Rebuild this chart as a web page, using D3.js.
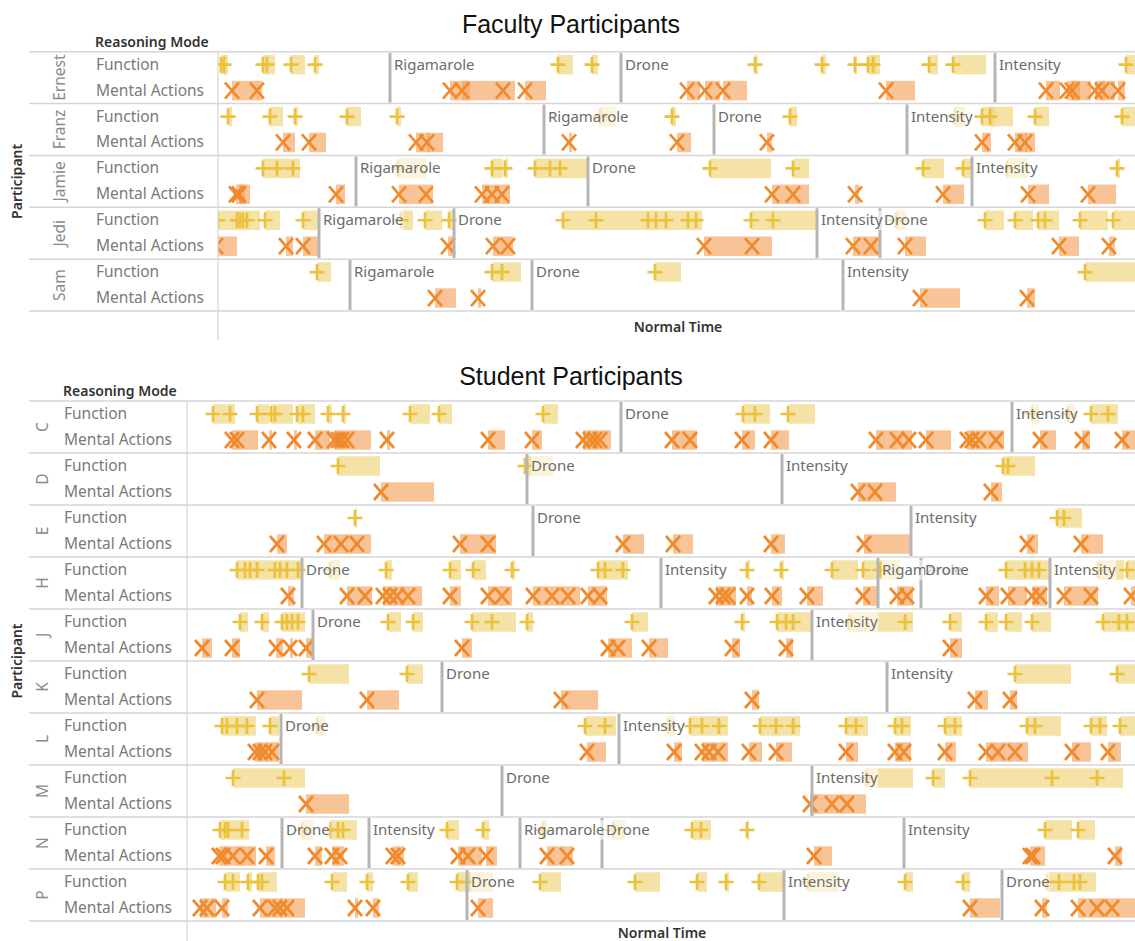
<!DOCTYPE html>
<html>
<head>
<meta charset="utf-8">
<script src="https://cdn.jsdelivr.net/npm/d3@7"></script>
<style>
body { margin: 0; background: #fff; }
text { font-family: "Noto Sans", sans-serif; }
</style>
</head>
<body>
<div id="draw"></div>
<script>
// reasoning modes (rows inside each participant)
var modes = ["Function", "Mental Actions"];

// ---- faculty ----
var facultyNames = ["Ernest", "Franz", "Jamie", "Jedi", "Sam"];
// game segments: [label, normal time where it starts]
var facultySegments = [
    [["Rigamarole", 172], ["Drone", 403], ["Intensity", 777]],
    [["Rigamarole", 326], ["Drone", 496], ["Intensity", 689]],
    [["Rigamarole", 138], ["Drone", 370], ["Intensity", 754]],
    [["Rigamarole", 101], ["Drone", 236], ["Intensity", 599], ["Drone", 662]],
    [["Rigamarole", 132], ["Drone", 314], ["Intensity", 625]]
];
// [start, end] of each episode
var facultyFunction = [
    [[3,8],[6,10],[45,50],[49,57],[73,87],[97,101],[340,355],[374,380],[537,540],[604,608],[637,639],[650,658],[655,662],[711,720],[735,768],[908,918]],
    [[10,14],[52,65],[77,80],[129,143],[179,183],[382,398],[454,458],[572,579],[737,747],[764,777],[772,795],[817,831],[904,917]],
    [[45,59],[59,74],[75,82],[180,208],[274,285],[287,290],[317,332],[332,342],[342,370],[492,553],[575,591],[705,726],[745,754],[789,810],[899,902]],
    [[0,19],[19,22],[22,25],[25,29],[29,42],[47,62],[85,100],[183,195],[207,224],[231,237],[345,378],[378,430],[430,438],[438,448],[448,470],[470,478],[478,484],[533,555],[555,599],[678,688],[767,786],[797,815],[820,827],[827,841],[862,890],[895,917]],
    [[99,113],[274,284],[284,303],[437,463],[867,917]]
];
var facultyMental = [
    [[14,40],[39,44],[232,252],[244,285],[285,297],[307,328],[469,482],[487,502],[505,529],[668,697],[828,842],[849,862],[854,873],[877,887],[884,897],[900,907]],
    [[65,77],[91,108],[198,212],[209,225],[351,354],[459,473],[549,554],[764,773],[797,809],[807,817]],
    [[18,27],[21,32],[118,127],[181,208],[208,215],[264,274],[274,284],[284,292],[554,575],[575,591],[637,641],[725,746],[810,831],[870,898]],
    [[-2,19],[68,75],[85,100],[230,237],[275,290],[290,295],[486,534],[534,554],[635,653],[653,661],[687,708],[841,861],[891,897]],
    [[217,238],[260,263],[702,742],[809,817]]
];

// ---- students ----
var studentNames = ["C", "D", "E", "H", "J", "K", "L", "M", "N", "P"];
var studentSegments = [
    [["Drone", 434], ["Intensity", 825]],
    [["Drone", 340], ["Intensity", 595]],
    [["Drone", 346], ["Intensity", 724]],
    [["Drone", 115], ["Intensity", 474], ["Rigamarole", 691], ["Drone", 734], ["Intensity", 863]],
    [["Drone", 126], ["Intensity", 625]],
    [["Drone", 255], ["Intensity", 700]],
    [["Drone", 94], ["Intensity", 432]],
    [["Drone", 315], ["Intensity", 625]],
    [["Drone", 95], ["Intensity", 182], ["Rigamarole", 333], ["Drone", 415], ["Intensity", 717]],
    [["Drone", 280], ["Intensity", 597], ["Drone", 815]]
];
var studentFunction = [
    [[26,43],[43,48],[70,82],[84,88],[88,106],[110,116],[116,128],[141,145],[156,159],[223,243],[252,265],[356,371],[556,568],[568,583],[601,628],[845,852],[881,887],[904,921],[921,931]],
    [[151,193],[338,366],[816,821],[821,848]],
    [[168,170],[870,877],[877,895]],
    [[50,58],[58,63],[63,70],[70,88],[88,93],[93,100],[100,111],[111,115],[143,153],[199,205],[263,274],[286,299],[325,328],[411,418],[418,436],[436,441],[560,563],[594,597],[645,671],[676,690],[693,713],[819,838],[838,845],[845,852],[852,862],[911,937],[940,948]],
    [[53,61],[75,82],[95,100],[100,105],[105,111],[111,118],[201,214],[226,236],[285,305],[305,329],[340,346],[445,461],[555,558],[590,599],[599,606],[606,624],[662,718],[718,726],[763,775],[799,811],[819,835],[845,864],[916,932],[932,940],[940,948]],
    [[122,162],[220,236],[828,884],[930,948]],
    [[35,40],[40,50],[50,60],[60,69],[83,92],[130,138],[398,418],[418,429],[481,488],[503,515],[515,532],[532,541],[573,589],[589,606],[606,613],[659,669],[669,681],[708,715],[715,724],[758,768],[768,775],[840,848],[848,874],[904,913],[913,920],[933,948]],
    [[46,97],[97,118],[679,726],[746,758],[783,865],[865,910],[910,936]],
    [[33,38],[38,41],[41,55],[55,62],[115,126],[143,151],[151,156],[156,170],[260,272],[296,302],[356,360],[426,438],[505,514],[514,524],[560,562],[858,885],[891,908]],
    [[38,46],[46,53],[61,65],[71,75],[75,90],[145,160],[180,186],[221,231],[270,280],[280,306],[353,374],[448,473],[510,520],[539,542],[572,597],[621,652],[718,726],[776,783],[860,872],[872,887],[887,893],[893,909]]
];
var studentMental = [
    [[45,50],[50,71],[82,85],[107,110],[128,143],[147,151],[151,155],[155,160],[160,184],[200,203],[301,318],[345,355],[396,403],[403,408],[408,413],[413,424],[485,503],[503,510],[555,568],[584,602],[689,710],[710,722],[722,725],[739,764],[780,785],[785,792],[792,809],[809,817],[853,869],[895,903],[935,948]],
    [[194,247],[671,688],[688,709],[804,815]],
    [[90,100],[137,154],[154,170],[170,184],[273,301],[301,309],[436,457],[486,506],[584,598],[677,724],[840,851],[894,916]],
    [[101,107],[160,178],[178,185],[196,203],[203,210],[210,221],[221,235],[263,274],[301,315],[315,325],[346,365],[365,381],[381,393],[401,413],[413,420],[529,536],[536,541],[541,549],[560,565],[585,595],[620,636],[676,690],[710,720],[720,726],[799,812],[821,840],[845,853],[853,860],[877,904],[904,911],[944,948]],
    [[15,25],[45,53],[89,96],[103,106],[119,126],[275,285],[421,431],[431,445],[462,481],[545,553],[599,606],[763,775]],
    [[70,115],[180,212],[374,411],[565,572],[788,801],[823,830]],
    [[68,73],[73,78],[78,85],[85,92],[400,419],[487,495],[515,522],[522,531],[531,541],[562,575],[589,605],[659,671],[708,717],[717,724],[758,769],[799,811],[811,828],[828,841],[885,904],[921,934]],
    [[119,162],[623,645],[645,660],[660,679]],
    [[32,36],[36,46],[46,60],[60,69],[79,88],[128,135],[145,153],[153,157],[206,211],[211,217],[271,281],[281,295],[299,310],[360,380],[380,386],[627,645],[843,846],[846,858],[928,935]],
    [[13,20],[20,29],[35,41],[73,88],[88,93],[93,100],[100,118],[168,171],[186,192],[291,306],[783,813],[855,860],[891,910],[910,925],[925,948]]
];

var w = 1135, h = 941;
var svg = d3.select("#draw")
    .append("svg")
    .attr("width", w)
    .attr("height", h);

var fnColor = "#ecc13c", fnBar = "#f0d278";
var maColor = "#f08a2c", maBar = "#f4a460";

drawPanel({
    id: "fac", title: "Faculty Participants", titleY: 33,
    names: facultyNames, segs: facultySegments, func: facultyFunction, ment: facultyMental,
    domain: [0, 920], left: 218, right: 1138,
    top: 51.7, bottom: 311, axisEnd: 340, nameX: 60, modeX: 96,
    timeY: 332
});
drawPanel({
    id: "stu", title: "Student Participants", titleY: 385,
    names: studentNames, segs: studentSegments, func: studentFunction, ment: studentMental,
    domain: [0, 950], left: 187, right: 1137,
    top: 401, bottom: 921, axisEnd: 941, nameX: 43, modeX: 64,
    timeY: 938
});

function drawPanel(p) {
    var x = d3.scaleLinear().domain(p.domain).range([p.left, p.right]);
    var y = d3.scaleBand().domain(p.names).range([p.top, p.bottom]);
    var ym = d3.scaleBand().domain(modes).range([0, y.bandwidth()]);
    var bh = 19.5;

    //标题
    svg.append("text")
        .attr("x", 571).attr("y", p.titleY)
        .attr("text-anchor", "middle")
        .style("font-family", "'Liberation Sans', Arial, sans-serif")
        .attr("font-size", 25).attr("fill", "#111")
        .text(p.title);
    svg.append("text")
        .attr("x", p.modeX - 1).attr("y", p.top - 5)
        .attr("font-size", 14).attr("font-weight", 600).attr("fill", "#333")
        .text("Reasoning Mode");
    svg.append("text")
        .attr("transform", "translate(22," + ((p.top + p.bottom) / 2) + ") rotate(-90)")
        .attr("text-anchor", "middle")
        .attr("font-size", 14).attr("font-weight", 600).attr("fill", "#333")
        .text("Participant");
    svg.append("text")
        .attr("x", (p.left + p.right) / 2).attr("y", p.timeY)
        .attr("text-anchor", "middle")
        .attr("font-size", 14).attr("font-weight", 600).attr("fill", "#333")
        .text("Normal Time");

    //行分隔线
    var edges = p.names.map(function(n) { return y(n); }).concat([p.bottom]);
    svg.selectAll("line.h-" + p.id)
        .data(edges).enter()
        .append("line")
        .attr("x1", 29).attr("x2", w)
        .attr("y1", function(d) { return d; })
        .attr("y2", function(d) { return d; })
        .attr("stroke", "#d6d6d6").attr("stroke-width", 1.5);
    svg.append("line")
        .attr("x1", p.left).attr("x2", p.left)
        .attr("y1", p.top).attr("y2", p.axisEnd)
        .attr("stroke", "#d6d6d6").attr("stroke-width", 1.2);

    //参与者名称 + 模式标签
    svg.selectAll("text.name-" + p.id)
        .data(p.names).enter()
        .append("text")
        .attr("transform", function(d) {
            return "translate(" + p.nameX + "," + (y(d) + y.bandwidth() / 2) + ") rotate(-90)";
        })
        .attr("text-anchor", "middle").attr("dy", "0.35em")
        .attr("font-size", 15.5).attr("fill", "#8a8a8a")
        .text(function(d) { return d; });
    p.names.forEach(function(n) {
        modes.forEach(function(m) {
            svg.append("text")
                .attr("x", p.modeX).attr("y", y(n) + ym(m) + ym.bandwidth() / 2 + 5)
                .attr("font-size", 15.5).attr("fill", "#7a7a7a")
                .text(m);
        });
    });

    svg.append("clipPath").attr("id", "clip-" + p.id)
        .append("rect")
        .attr("x", p.left + 0.5).attr("y", p.top)
        .attr("width", w - p.left).attr("height", p.bottom - p.top);
    var g = svg.append("g").attr("clip-path", "url(#clip-" + p.id + ")");

    p.names.forEach(function(n, i) {
        var rows = [
            { mode: "Function", data: p.func[i], bar: fnBar, color: fnColor,
              shape: "M-7.5,0H7.5M0,-8V8" },
            { mode: "Mental Actions", data: p.ment[i], bar: maBar, color: maColor,
              shape: "M-7,-8L7,8M-7,8L7,-8" }
        ];
        rows.forEach(function(r) {
            var cy = y(n) + ym(r.mode) + ym.bandwidth() / 2;
            g.selectAll(null)
                .data(r.data).enter()
                .append("rect")
                .attr("x", function(d) { return x(d[0]); })
                .attr("y", cy - bh / 2)
                .attr("width", function(d) { return Math.max(2, x(d[1]) - x(d[0])); })
                .attr("height", bh)
                .attr("fill", r.bar).attr("fill-opacity", 0.65);
        });
        rows.forEach(function(r) {
            var cy = y(n) + ym(r.mode) + ym.bandwidth() / 2;
            g.selectAll(null)
                .data(r.data).enter()
                .append("path")
                .attr("d", r.shape)
                .attr("transform", function(d) { return "translate(" + x(d[0]) + "," + cy + ")"; })
                .attr("fill", "none").attr("stroke", r.color).attr("stroke-width", 2.7);
        });

        //游戏分段
        var segs = p.segs[i];
        g.selectAll(null)
            .data(segs).enter()
            .append("line")
            .attr("x1", function(d) { return x(d[1]); })
            .attr("x2", function(d) { return x(d[1]); })
            .attr("y1", y(n) + 1).attr("y2", y(n) + y.bandwidth() - 1)
            .attr("stroke", "#b5b5b5").attr("stroke-width", 3);
        segs.forEach(function(s) {
            var bg = g.append("rect").attr("fill", "#fff").attr("fill-opacity", 0.6);
            var t = g.append("text")
                .attr("x", x(s[1]) + 4).attr("y", y(n) + 18)
                .attr("font-size", 15).attr("fill", "#6b6b6b")
                .text(s[0]);
            var bb = t.node().getBBox();
            bg.attr("x", bb.x).attr("y", y(n) + ym("Function") + 13 - bh / 2)
                .attr("width", bb.width).attr("height", bh);
        });
    });
}
</script>
</body>
</html>
